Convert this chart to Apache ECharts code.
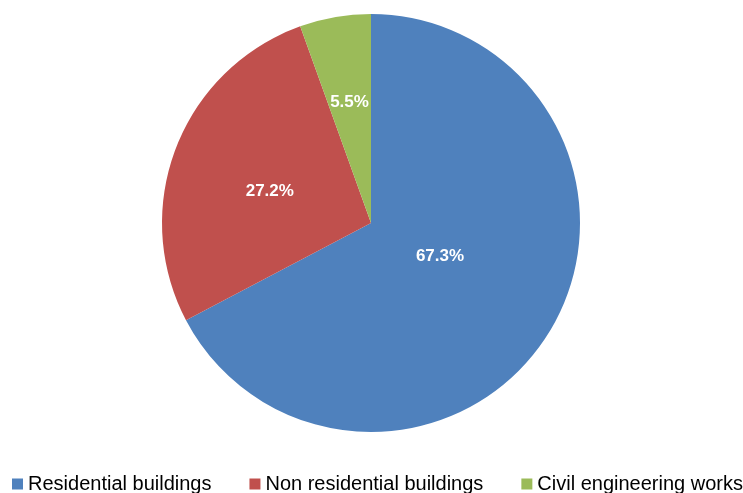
<!DOCTYPE html>
<html>
<head>
<meta charset="utf-8">
<script src="https://cdn.jsdelivr.net/npm/echarts@6/dist/echarts.min.js"></script>
<style>
html, body {margin:0; padding:0; background:#fff;}
#main {width:743px; height:493px;}
</style>
</head>
<body>
<div id="main"></div>
<script type="text/javascript">
	var categories = ['Residential buildings', 'Non residential buildings', 'Civil engineering works'];
	var shares = [67.3, 27.2, 5.5];
	var colors = ['#4F81BD', '#C0504D', '#9BBB59'];
	// nudge labels toward where the original sits them
	var labelOffsets = [[-23, -22], [-1, 7], [-3, -15]];

	var narrow = '"Liberation Sans Narrow", "Arial Narrow", "Liberation Sans", Arial, sans-serif';

	var data = [];
	for (var i = 0; i < categories.length; i++) {
		data.push({
			value: shares[i],
			name: categories[i],
			itemStyle: {color: colors[i]},
			label: {offset: labelOffsets[i]}
		});
	}

	var myChart = echarts.init(document.getElementById('main'));
	var option = {
		animation: false,
		legend: {
			bottom: -6,
			left: 7,
			width: 736,
			itemWidth: 11,
			itemHeight: 11,
			itemGap: 38,
			icon: 'rect',
			textStyle: {fontFamily: narrow, fontSize: 20, color: '#000'},
			data: categories
		},
		series: [
			{
				type: 'pie',
				radius: 209,
				center: [371, 223],
				startAngle: 90,
				clockwise: true,
				data: data,
				label: {
					position: 'inside',
					formatter: function (p) { return p.value.toFixed(1) + '%'; },
					color: '#fff',
					fontFamily: narrow,
					fontWeight: 'bold',
					fontSize: 17
				},
				labelLine: {show: false},
				itemStyle: {borderWidth: 0},
				emphasis: {disabled: true}
			}
		]
	};
	myChart.setOption(option, true);
</script>
</body>
</html>
